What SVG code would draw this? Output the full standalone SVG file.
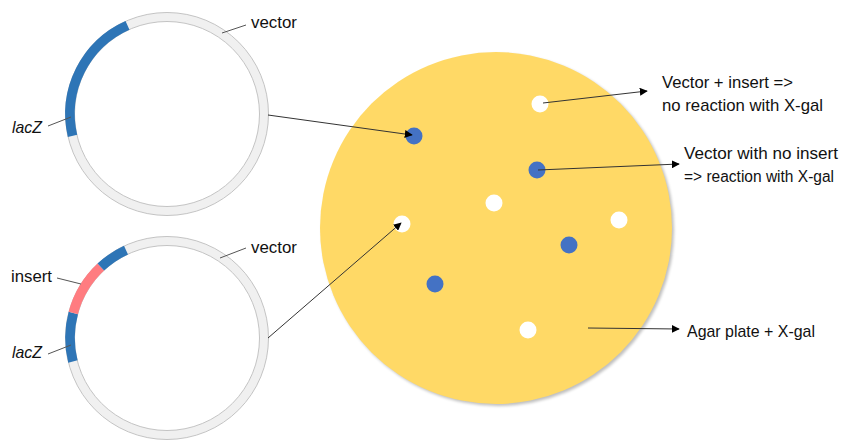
<svg xmlns="http://www.w3.org/2000/svg" width="843" height="441" viewBox="0 0 843 441">
<defs>
<marker id="arr" viewBox="0 0 10 10" refX="9" refY="5" markerWidth="8" markerHeight="8" markerUnits="userSpaceOnUse" orient="auto">
<path d="M0,0 L10,5 L0,10 z" fill="#000"/>
</marker>
<filter id="sh" x="-10%" y="-10%" width="120%" height="120%">
<feGaussianBlur stdDeviation="1.5"/>
</filter>
</defs>
<style>
.txt{font-family:"Liberation Sans",Arial,sans-serif;font-size:17px;fill:#111}
.sm{font-size:16px}
.it{font-style:italic}
.ring{fill:none;stroke:#F0F0F0;stroke-width:9}
.edge{fill:none;stroke:#BDBDBD;stroke-width:0.9}
.blue{fill:none;stroke:#2E75B6;stroke-width:9.6}
.pink{fill:none;stroke:#FF7C80;stroke-width:9.6}
.lead{stroke:#555;stroke-width:1;fill:none}
.conn{stroke:#333;stroke-width:1;fill:none;marker-end:url(#arr)}
.dw{fill:#FFFFFF}
.db{fill:#4472C4}
</style>
<rect width="843" height="441" fill="#FFFFFF"/>

<g id="plasmid-top">
<circle class="ring" cx="167" cy="114" r="97"/>
<circle class="edge" cx="167" cy="114" r="101.5"/>
<circle class="edge" cx="167" cy="114" r="92.5"/>
<path class="blue" d="M72.5 135.8 A97 97 0 0 1 127.5 25.4"/>
<line class="lead" x1="222" y1="33" x2="246" y2="25"/>
<text class="txt" x="251" y="28" textLength="46" lengthAdjust="spacingAndGlyphs">vector</text>
<line class="lead" x1="48" y1="126" x2="71" y2="117"/>
<text class="txt it" x="12" y="133" textLength="30" lengthAdjust="spacingAndGlyphs">lacZ</text>
</g>

<g id="plasmid-bottom">
<circle class="ring" cx="167" cy="338" r="97"/>
<circle class="edge" cx="167" cy="338" r="101.5"/>
<circle class="edge" cx="167" cy="338" r="92.5"/>
<path class="blue" d="M72.9 361.5 A97 97 0 0 1 73.3 312.9"/>
<path class="pink" d="M73.3 312.9 A97 97 0 0 1 100.8 267.1"/>
<path class="blue" d="M100.8 267.1 A97 97 0 0 1 126.0 250.1"/>
<line class="lead" x1="220" y1="258" x2="246" y2="248"/>
<text class="txt" x="251" y="253" textLength="46" lengthAdjust="spacingAndGlyphs">vector</text>
<line class="lead" x1="57" y1="278" x2="81" y2="284"/>
<text class="txt" x="11" y="282" textLength="41" lengthAdjust="spacingAndGlyphs">insert</text>
<line class="lead" x1="48" y1="354" x2="71" y2="345"/>
<text class="txt it" x="12" y="358" textLength="30" lengthAdjust="spacingAndGlyphs">lacZ</text>
</g>

<g id="plate">
<circle cx="498" cy="230" r="176" fill="#000" opacity="0.25" filter="url(#sh)"/>
<circle cx="496" cy="228" r="176" fill="#FFD966"/>
<circle class="dw" cx="540" cy="104" r="8.5"/>
<circle class="db" cx="414" cy="136" r="8.5"/>
<circle class="db" cx="537" cy="170" r="8.5"/>
<circle class="dw" cx="494" cy="203" r="8.5"/>
<circle class="dw" cx="402" cy="224" r="8.5"/>
<circle class="dw" cx="619" cy="220" r="8.5"/>
<circle class="db" cx="569" cy="245" r="8.5"/>
<circle class="db" cx="435" cy="284" r="8.5"/>
<circle class="dw" cx="528" cy="330" r="8.5"/>
</g>

<g id="connectors">
<line class="conn" x1="268" y1="115" x2="412" y2="135"/>
<line class="conn" x1="268" y1="338" x2="401" y2="223"/>
<line class="conn" x1="543" y1="103" x2="647" y2="91"/>
<line class="conn" x1="538" y1="170" x2="679" y2="164"/>
<line class="conn" x1="588" y1="328" x2="679" y2="329"/>
</g>

<g id="label-insert">
<text class="txt" x="662" y="88" textLength="131" lengthAdjust="spacingAndGlyphs">Vector + insert =&gt;</text>
<text class="txt" x="662" y="111" textLength="161" lengthAdjust="spacingAndGlyphs">no reaction with X-gal</text>
</g>
<g id="label-noinsert">
<text class="txt" x="684" y="159" textLength="154" lengthAdjust="spacingAndGlyphs">Vector with no insert</text>
<text class="txt sm" x="684" y="182" textLength="150" lengthAdjust="spacingAndGlyphs">=&gt; reaction with X-gal</text>
</g>
<g id="label-plate">
<text class="txt" x="687" y="337" textLength="128" lengthAdjust="spacingAndGlyphs">Agar plate + X-gal</text>
</g>
</svg>
